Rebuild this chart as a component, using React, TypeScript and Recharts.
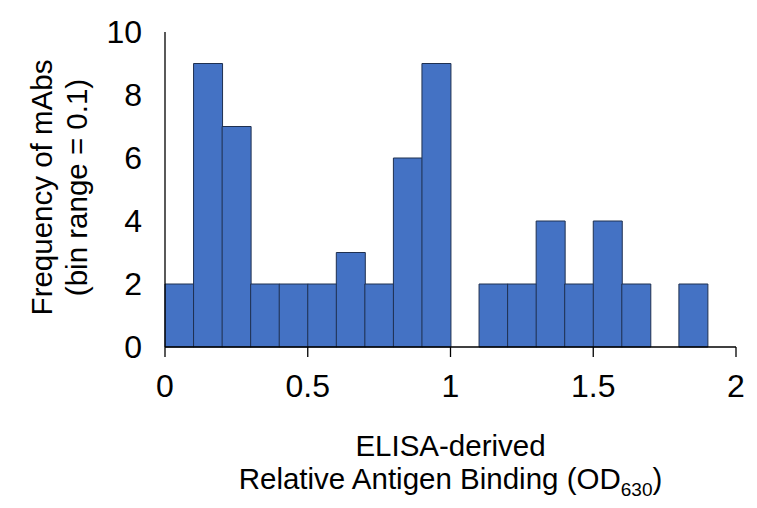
import React from "react";
import { BarChart, Bar, XAxis, YAxis, Label } from "recharts";

// histogram bins (lower edge), bin width 0.1
const binLow = [0, 0.1, 0.2, 0.3, 0.4, 0.5, 0.6, 0.7, 0.8, 0.9, 1.0, 1.1, 1.2, 1.3, 1.4, 1.5, 1.6, 1.7, 1.8, 1.9];
const counts = [2, 9, 7, 2, 2, 2, 3, 2, 6, 9, 0, 2, 2, 4, 2, 4, 2, 0, 2, 0];
const binWidth = 0.1;
const xTicks = [0, 0.5, 1, 1.5, 2];
const yTicks = [0, 2, 4, 6, 8, 10];

const data = binLow.map((lo, i) => ({ x: lo + binWidth / 2, count: counts[i] }));

const FONT = "'Liberation Sans', Arial, Helvetica, sans-serif";

const XTitle = (props: any) => {
  const { x, y, width } = props.viewBox;
  const cx = x + width / 2;
  return (
    <g fontFamily={FONT} fontSize={29.5} fill="#000">
      <text x={cx} y={y + 109} textAnchor="middle">ELISA-derived</text>
      <text x={cx} y={y + 142} textAnchor="middle">
        Relative Antigen Binding (OD
        <tspan fontSize={19} dy={7}>630</tspan>
        <tspan dy={-7}>)</tspan>
      </text>
    </g>
  );
};

const YTitle = (props: any) => {
  const { y, height } = props.viewBox;
  const cy = y + height / 2 - 2;
  return (
    <g fontFamily={FONT} fontSize={29.5} fill="#000">
      <text x={41} y={cy} textAnchor="middle" dominantBaseline="central" transform={`rotate(-90 41 ${cy})`}>
        Frequency of mAbs
      </text>
      <text x={76} y={cy} textAnchor="middle" dominantBaseline="central" transform={`rotate(-90 76 ${cy})`}>
        (bin range = 0.1)
      </text>
    </g>
  );
};

export default function App() {
  return (
    <div style={{ position: "absolute", left: 0, top: 0, width: 757, height: 508, background: "#fff" }}>
      <BarChart
        width={757}
        height={508}
        data={data}
        margin={{ top: 32, right: 21, bottom: 101, left: 0 }}
        barCategoryGap={0}
        barGap={0}
      >
        <XAxis
          type="number"
          dataKey="x"
          domain={[0, 2]}
          ticks={xTicks}
          interval={0}
          height={60}
          tickSize={10}
          tickMargin={17}
          tickLine={{ stroke: "#000", strokeWidth: 1.3 }}
          axisLine={{ stroke: "#000", strokeWidth: 1.3 }}
          tick={{ fill: "#000", fontSize: 32, fontFamily: FONT }}
        >
          <Label content={XTitle} />
        </XAxis>
        <YAxis
          domain={[0, 10]}
          ticks={yTicks}
          interval={0}
          width={165}
          tickLine={false}
          tickSize={0}
          tickMargin={23}
          axisLine={{ stroke: "#000", strokeWidth: 1.3 }}
          tick={{ fill: "#000", fontSize: 32, fontFamily: FONT }}
        >
          <Label content={YTitle} />
        </YAxis>
        <Bar dataKey="count" fill="#4472C4" stroke="#1F3050" strokeWidth={1} isAnimationActive={false} />
      </BarChart>
    </div>
  );
}
